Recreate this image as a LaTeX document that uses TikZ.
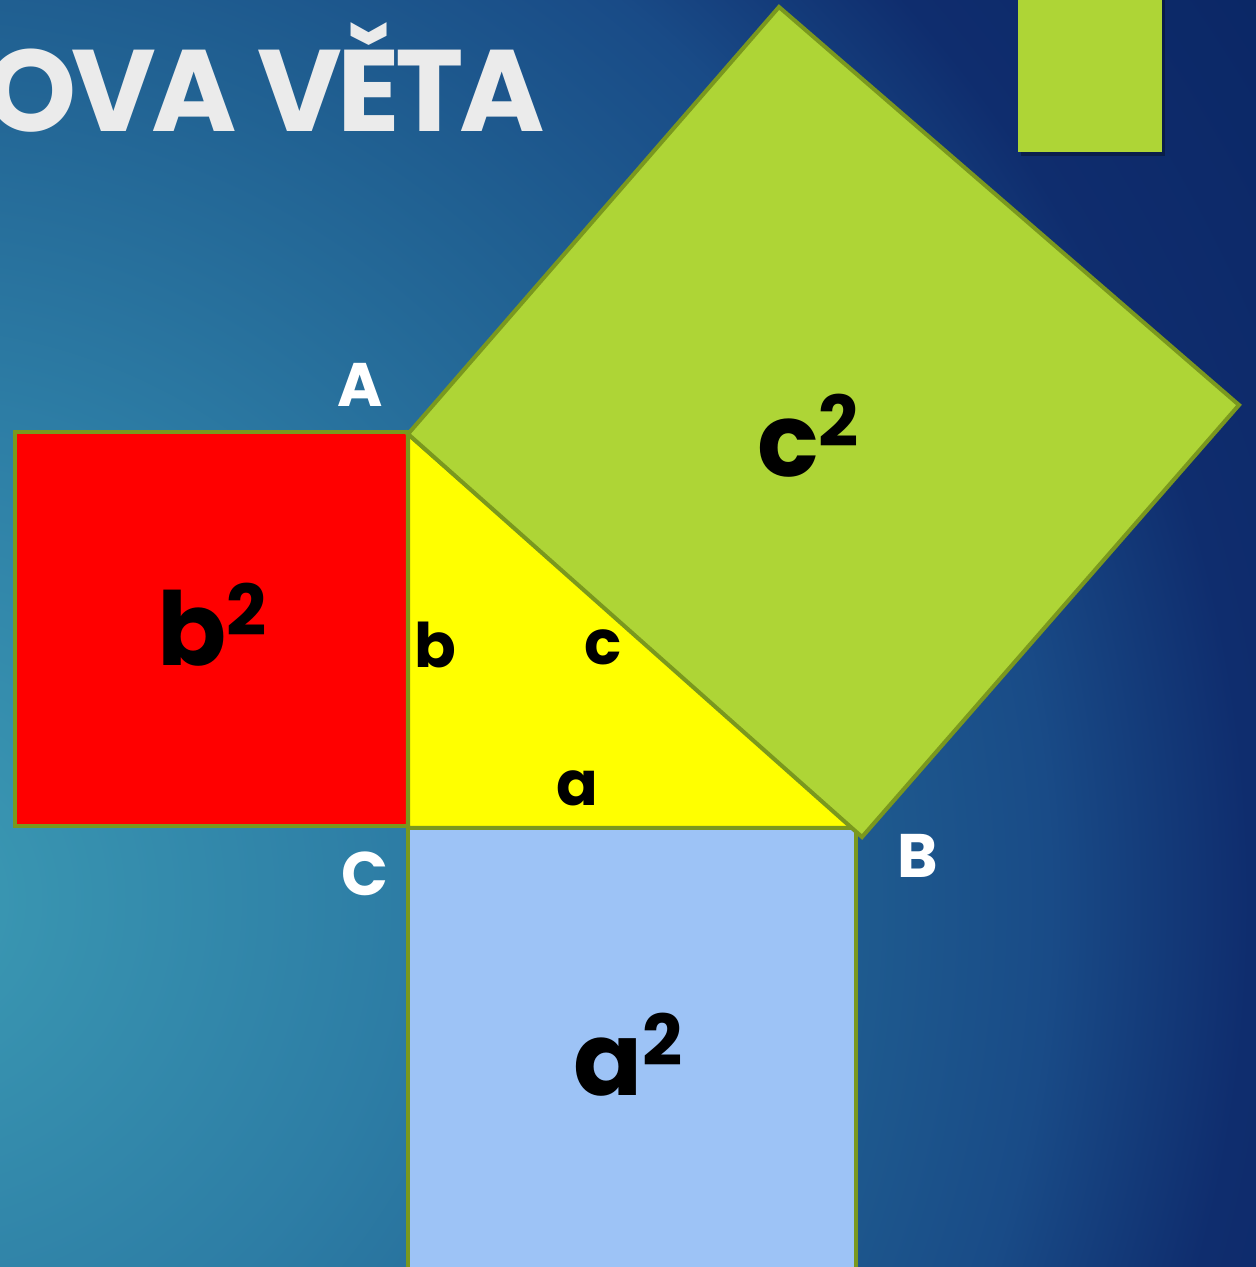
\documentclass[tikz,border=0pt]{standalone}
\usepackage{fontspec}
\setmainfont{Poppins}
\newfontfamily\titlefont{Poppins}[LetterSpace=-4]
\pgfdeclareradialshading{bgshade}{\pgfpoint{0bp}{0bp}}{%
 rgb(0bp)=(0.235,0.608,0.706);
 rgb(6.25bp)=(0.176,0.490,0.647);
 rgb(11.25bp)=(0.125,0.373,0.569);
 rgb(14.375bp)=(0.098,0.294,0.529);
 rgb(16.875bp)=(0.059,0.176,0.431);
 rgb(21.25bp)=(0.039,0.149,0.392);
 rgb(25bp)=(0.039,0.149,0.392);
 rgb(50bp)=(0.039,0.149,0.392)}
\definecolor{edge}{RGB}{122,152,30}
\definecolor{lime}{RGB}{174,213,54}
\definecolor{sky}{RGB}{157,195,246}
\definecolor{tri}{RGB}{255,255,0}
\definecolor{titlegrey}{RGB}{235,235,235}
\tikzset{
  sq/.style={draw=edge, line width=2.3pt, line join=miter},
  corner/.style={text=white, inner sep=0pt, anchor=base, font=\bfseries\fontsize{35}{35}\selectfont},
  side/.style={inner sep=0pt, anchor=base, font=\bfseries\fontsize{35}{35}\selectfont},
  area/.style={inner sep=0pt, anchor=base, font=\bfseries\fontsize{58}{58}\selectfont},
}
\newcommand\sqtwo{\raisebox{17pt}{\fontsize{40}{40}\selectfont 2}}
\begin{document}
\begin{tikzpicture}[x=0.02cm, y=-0.02cm]
\useasboundingbox (0,0) rectangle (1256,1267);
% background
\begin{scope}
\clip (0,0) rectangle (1256,1267);
\shade[shading=bgshade] (-100,900) circle (2000);
\end{scope}
% title
\node[inner sep=0pt, anchor=base east, text=titlegrey, font=\titlefont\bfseries\fontsize{66}{66}\selectfont] (title) at (545,132) {OVA VĚTA};
% small green rectangle with shadow
\fill[black, opacity=0.3] (1021,-5) rectangle (1165,156);
\fill[lime] (1018,-5) rectangle (1162,152);
% coordinates
\coordinate (A) at (408,434);
\coordinate (C) at (408,828);
\coordinate (B) at (856,828);
\coordinate (T) at (779,7);
\coordinate (R) at (1239,405);
\coordinate (D) at (862,837);
% squares
\filldraw[sq, fill=red] (15,432) rectangle (408,826);
\filldraw[sq, fill=tri] (A) -- (C) -- (B) -- cycle;
\filldraw[sq, fill=sky] (408,828) rectangle (856,1290);
\filldraw[sq, fill=lime] (A) -- (T) -- (R) -- (D) -- cycle;
% labels
\node[corner] (lA) at (360,406) {A};
\node[corner] (lC) at (365,895) {C};
\node[corner] (lB) at (918,877) {B};
\node[side] (lb) at (435,667) {b};
\node[side] (lc) at (603,664) {c};
\node[side] (la) at (577,805) {a};
\node[area] (b2) at (212,665) {b\sqtwo};
\node[area] (c2) at (808,476) {c\sqtwo};
\node[area] (a2) at (628,1095) {a\sqtwo};
\end{tikzpicture}
\end{document}
